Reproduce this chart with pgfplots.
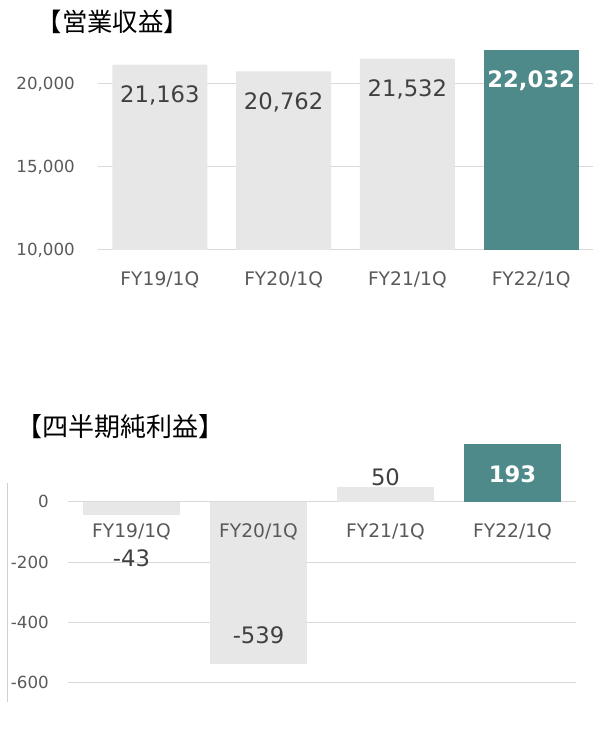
\documentclass[border=0pt]{standalone}
\usepackage{pgfplots}
\pgfplotsset{compat=1.18}
\usepackage{fontspec}
\setmainfont{DejaVu Sans}
\newfontfamily\jp{Noto Sans CJK JP}
\definecolor{barGray}{HTML}{E7E7E7}
\definecolor{tealBar}{HTML}{4F8A8B}
\definecolor{gridGray}{HTML}{D9D9D9}
\definecolor{tickText}{HTML}{595959}
\definecolor{valText}{HTML}{404040}
\pgfplotsset{
  /pgf/number format/assume math mode=true,
  base/.style={
    scale only axis,
    xmin=-0.5, xmax=3.5,
    xtick={0,1,2,3},
    xticklabels={FY19/1Q,FY20/1Q,FY21/1Q,FY22/1Q},
    scaled y ticks=false,
    axis line style={draw=none},
    major tick length=0pt,
    ymajorgrids,
    grid style={gridGray, line width=0.75pt},
    ybar,
    yticklabel style={/pgf/number format/1000 sep={,}, font=\fontsize{12.5}{14}\selectfont, text=tickText, inner sep=0pt, anchor=east},
  },
  vals/.style={
    nodes near coords={\pgfmathprintnumber[1000 sep={,}]{\pgfplotspointmeta}},
    every node near coord/.append style={anchor=base, font=\fontsize{17}{20}\selectfont, text=valText, inner sep=0pt},
  },
}
\begin{document}
\begin{tikzpicture}
\path[use as bounding box] (0,0) rectangle (450pt,553.5pt);
% top panel
\begin{axis}[base,
  at={(73.5pt,366pt)}, anchor=south west,
  width=371.25pt, height=151.9pt,
  ymin=10000, ymax=22200,
  ytick={10000,15000,20000},
  yticklabel style={xshift=-17.25pt},
  xticklabel style={font=\fontsize{14}{16}\selectfont, text=tickText, anchor=base, inner sep=0pt, yshift=-26.9pt},
  bar width=71.25pt,
]
\addplot[fill=barGray, draw=none, bar shift=0pt, vals,
  every node near coord/.append style={yshift=-28.3pt}]
  coordinates {(0,21163) (1,20762) (2,21532)};
\addplot[fill=tealBar, draw=none, bar shift=0pt, vals,
  every node near coord/.append style={yshift=-28.3pt, text=white, font=\fontsize{17}{20}\selectfont\bfseries}]
  coordinates {(3,22032)};
\end{axis}
% bottom panel
\begin{axis}[base,
  at={(51pt,41.5pt)}, anchor=south west,
  width=381pt, height=180.9pt,
  ymin=-600, ymax=200,
  ytick={-600,-400,-200,0},
  yticklabel style={xshift=-14.25pt},
  xticklabels={},
  bar width=72.75pt,
]
\addplot[fill=barGray, draw=none, bar shift=0pt, vals,
  every node near coord/.append style={yshift=-38.7pt}]
  coordinates {(0,-43)};
\addplot[fill=barGray, draw=none, bar shift=0pt, vals,
  every node near coord/.append style={yshift=15.7pt}]
  coordinates {(1,-539)};
\addplot[fill=barGray, draw=none, bar shift=0pt, vals,
  every node near coord/.append style={yshift=1.2pt}]
  coordinates {(2,50)};
\addplot[fill=tealBar, draw=none, bar shift=0pt, vals,
  every node near coord/.append style={yshift=-29.1pt, text=white, font=\fontsize{17}{20}\selectfont\bfseries}]
  coordinates {(3,193)};
\end{axis}
% overlay axis: category labels drawn over the bars
\begin{axis}[
  scale only axis,
  at={(51pt,41.5pt)}, anchor=south west,
  width=381pt, height=180.9pt,
  xmin=-0.5, xmax=3.5, ymin=-600, ymax=200,
  xtick={0,1,2,3},
  xticklabels={FY19/1Q,FY20/1Q,FY21/1Q,FY22/1Q},
  ytick=\empty,
  axis line style={draw=none},
  major tick length=0pt,
  xticklabel style={font=\fontsize{14}{16}\selectfont, text=tickText, anchor=base, inner sep=0pt, yshift=108.6pt},
]
\end{axis}
\draw[color=gridGray!90!gray, line width=0.75pt] (5.25pt,27pt) -- (5.25pt,191.25pt);
\node[anchor=west, inner sep=0pt, font=\jp\fontsize{19}{22}\selectfont, text=black] at (27.5pt,537pt) {【営業収益】};
\node[anchor=west, inner sep=0pt, font=\jp\fontsize{19.5}{22}\selectfont, text=black] at (12.5pt,233.5pt) {【四半期純利益】};
\end{tikzpicture}
\end{document}
